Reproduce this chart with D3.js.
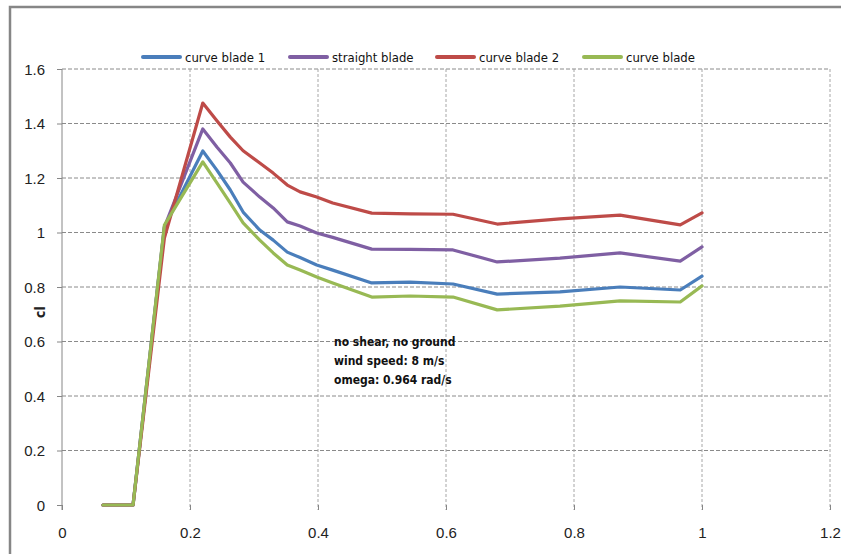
<!DOCTYPE html>
<html><head><meta charset="utf-8">
<script src="https://cdn.jsdelivr.net/npm/d3@7"></script>
<style>
body{margin:0;background:#fff;}
svg{display:block;}
text{font-family:"Liberation Sans Narrow","DejaVu Sans Condensed",sans-serif;}
</style></head><body>
<svg id="c" width="841" height="554"></svg>
<script>
const xValues = [0.064, 0.111, 0.16, 0.22, 0.242, 0.263, 0.283, 0.309, 0.33, 0.352, 0.372, 0.398, 0.423, 0.484, 0.544, 0.611, 0.68, 0.778, 0.872, 0.966, 1.0];
const curveBlade1 = [0, 0, 1.02, 1.299, 1.229, 1.156, 1.075, 1.009, 0.972, 0.928, 0.908, 0.881, 0.862, 0.815, 0.818, 0.811, 0.774, 0.782, 0.800, 0.789, 0.840];
const straightBlade = [0, 0, 1.02, 1.38, 1.314, 1.255, 1.185, 1.13, 1.09, 1.039, 1.024, 0.998, 0.982, 0.939, 0.938, 0.936, 0.892, 0.906, 0.925, 0.895, 0.947];
const curveBlade2 = [0, 0, 0.98, 1.475, 1.41, 1.35, 1.30, 1.255, 1.218, 1.174, 1.149, 1.13, 1.108, 1.071, 1.068, 1.067, 1.031, 1.050, 1.064, 1.028, 1.072];
const curveBlade = [0, 0, 1.027, 1.259, 1.182, 1.108, 1.035, 0.972, 0.925, 0.881, 0.862, 0.837, 0.815, 0.763, 0.767, 0.763, 0.716, 0.730, 0.749, 0.745, 0.804];
const seriesNames = ["curve blade 1", "straight blade", "curve blade 2", "curve blade"];
const seriesColors = ["#4A7EBB", "#7F5FA3", "#BE4B48", "#98B954"];
const xTicks = [0, 0.2, 0.4, 0.6, 0.8, 1, 1.2];
const yTicks = [0, 0.2, 0.4, 0.6, 0.8, 1, 1.2, 1.4, 1.6];
const yTitle = "cl";
const notes = ["no shear, no ground", "wind speed: 8 m/s", "omega: 0.964 rad/s"];

const seriesData = [curveBlade1, straightBlade, curveBlade2, curveBlade];

const svg = d3.select("#c");
const pL = 62, pR = 830, pT = 69, pB = 505;
const x = d3.scaleLinear().domain([0, 1.2]).range([pL, pR]);
const y = d3.scaleLinear().domain([0, 1.6]).range([pB, pT]);

// chart area border
svg.append("rect").attr("x", 10).attr("y", 7).attr("width", 850).attr("height", 580)
  .attr("fill", "none").attr("stroke", "#868686").attr("stroke-width", 2.5);

// horizontal grid
svg.append("g").selectAll("line").data(yTicks.filter(d => d > 0)).join("line")
  .attr("x1", pL).attr("x2", pR).attr("y1", d => y(d)).attr("y2", d => y(d))
  .attr("stroke", "#8a8a8a").attr("stroke-width", 1).attr("stroke-dasharray", "4,2");
// vertical grid
svg.append("g").selectAll("line").data(xTicks.filter(d => d > 0)).join("line")
  .attr("x1", d => x(d)).attr("x2", d => x(d)).attr("y1", pT).attr("y2", pB + 5)
  .attr("stroke", "#a6a6a6").attr("stroke-width", 1).attr("stroke-dasharray", "3,2");

// y axis
const yAxis = d3.axisLeft(y).tickValues(yTicks).tickSize(5).tickFormat(d => d3.format("")(+d.toFixed(1)));
const gy = svg.append("g").attr("transform", `translate(${pL},0)`).call(yAxis);
gy.select(".domain").attr("stroke", "#868686").attr("d", `M0,${pT}V${pB + 5}`);
gy.selectAll(".tick line").attr("stroke", "#868686");
gy.selectAll(".tick text").attr("x", -17).attr("dy", "0.36em")
  .style("font-family", "'Liberation Sans',Arial,sans-serif").style("font-size", "15px").attr("fill", "#222");

// x axis
const xAxis = d3.axisBottom(x).tickValues(xTicks).tickSize(5).tickFormat(d => d3.format("")(+d.toFixed(1)));
const gx = svg.append("g").attr("transform", `translate(0,${pB})`).call(xAxis);
gx.select(".domain").remove();
gx.selectAll(".tick line").attr("stroke", "#868686");
gx.selectAll(".tick text").attr("y", 22)
  .style("font-family", "'Liberation Sans',Arial,sans-serif").style("font-size", "15px").attr("fill", "#222");

// y title
svg.append("text").attr("transform", `translate(45,312) rotate(-90)`).attr("text-anchor", "middle")
  .style("font-size", "14px").style("font-weight", "bold").attr("fill", "#222").text(yTitle);

// series lines
const line = d3.line().x((d, i) => x(xValues[i])).y(d => y(d));
svg.append("g").selectAll("path").data(seriesData).join("path")
  .attr("d", d => line(d)).attr("fill", "none")
  .attr("stroke", (d, i) => seriesColors[i]).attr("stroke-width", 3.2)
  .attr("stroke-linejoin", "round").attr("stroke-linecap", "round");

// legend
const legendX = [143, 290, 437, 584];
const lg = svg.append("g").selectAll("g").data(seriesNames).join("g")
  .attr("transform", (d, i) => `translate(${legendX[i]},57)`);
lg.append("line").attr("x1", 0).attr("x2", 37).attr("y1", 0).attr("y2", 0)
  .attr("stroke", (d, i) => seriesColors[i]).attr("stroke-width", 4).attr("stroke-linecap", "round");
lg.append("text").attr("x", 42).attr("dy", "0.35em").style("font-size", "13px").attr("fill", "#111").text(d => d);

// annotation
svg.append("g").selectAll("text").data(notes).join("text")
  .attr("x", 334).attr("y", (d, i) => 342 + i * 19).attr("dy", "0.35em")
  .style("font-size", "12px").style("font-weight", "bold").attr("fill", "#111").text(d => d);
</script>
</body></html>
